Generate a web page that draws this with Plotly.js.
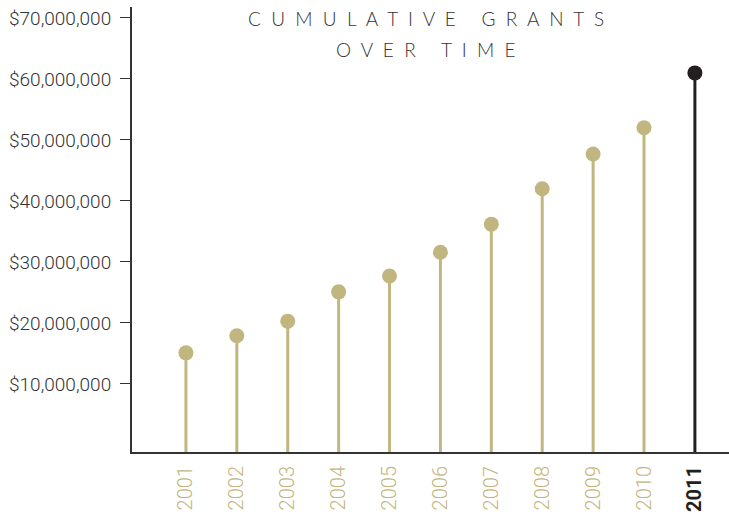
<!DOCTYPE html>
<html><head><meta charset="utf-8">
<script src="https://cdn.plot.ly/plotly-3.0.1.min.js"></script>
<style>html,body{margin:0;padding:0;background:#fff}#chart{width:729px;height:519px}</style>
</head><body><div id="chart"></div>
<script>
const years = ['2001','2002','2003','2004','2005','2006','2007','2008','2009','2010','2011'];
const grants = [15100000,17900000,20300000,25100000,27700000,31600000,36200000,42000000,47700000,52000000,61000000];
const yTickVals = [10000000,20000000,30000000,40000000,50000000,60000000,70000000];
const yTickText = ['$10,000,000','$20,000,000','$30,000,000','$40,000,000','$50,000,000','$60,000,000','$70,000,000'];
const titleLines = ['CUMULATIVE GRANTS','OVER TIME'];

const TAN = '#c2b680', DARK = '#231f20';
const Y_MIN = -1150000, Y_MAX = 71800000;
const last = years.length - 1;
const colors = years.map((y,i)=> i===last ? DARK : TAN);

function spaced(s){ return s.split(' ').map(w=>w.split('').join('\u00a0 ')).join('\u00a0\u00a0\u00a0\u00a0 '); }

const traces = years.map((y,i)=>({
  type:'scatter', mode:'markers', x:[y], y:[grants[i]],
  marker:{size:15, color:colors[i]},
  error_y:{type:'data', symmetric:false, array:[0], arrayminus:[grants[i]-Y_MIN], color:colors[i], thickness:3, width:0},
  hoverinfo:'x+y', showlegend:false
}));

const tickText = years.map((y,i)=> i===last ? '<b><span style="color:'+DARK+'">'+y+'</span></b>' : y);

const layout = {
  width:729, height:519,
  margin:{l:132, r:0, t:7, b:67},
  paper_bgcolor:'#fff', plot_bgcolor:'#fff',
  font:{family:'Roboto, "Noto Sans", sans-serif', color:'#333'},
  xaxis:{type:'category', range:[-1.06,10.67], tickvals:years, ticktext:tickText,
    tickangle:-90, tickfont:{size:20, color:TAN, weight:300}, showgrid:false, zeroline:false,
    showline:true, linecolor:'#333', linewidth:2, ticks:'', ticklabelstandoff:4, fixedrange:true},
  yaxis:{range:[Y_MIN,Y_MAX], tickvals:yTickVals, ticktext:yTickText, tickfont:{size:19, color:'#333', weight:300},
    ticks:'outside', ticklen:10, tickwidth:1, tickcolor:'#333', ticklabelstandoff:5, showgrid:false, zeroline:false,
    showline:true, linecolor:'#333', linewidth:2, fixedrange:true},
  annotations: titleLines.map((t,i)=>({
    text: spaced(t), xref:'paper', yref:'paper', x:0.492, y: i===0 ? (452-18)/445 : (452-50)/445,
    xanchor:'center', yanchor:'middle', showarrow:false, font:{family:'Lato, sans-serif', size:19, color:'#333', weight:300}
  }))
};
Plotly.newPlot('chart', traces, layout, {displayModeBar:false, staticPlot:true});
</script></body></html>
